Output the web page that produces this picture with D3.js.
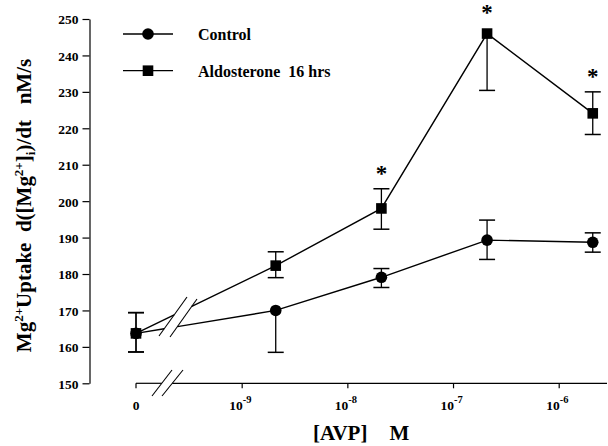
<!DOCTYPE html>
<html><head><meta charset="utf-8">
<script src="https://cdn.jsdelivr.net/npm/d3@7"></script>
<style>
html,body{margin:0;padding:0;background:#fff;}
svg{display:block;font-family:"Liberation Serif","Times New Roman",serif;font-weight:bold;}
</style></head>
<body><svg id="c" width="608" height="446"></svg>
<script>
// ---- data ----
const concentrations = [0, 2.1e-9, 2.1e-8, 2.1e-7, 2.1e-6];
const seriesNames = ["Control", "Aldosterone  16 hrs"];
const controlMean = [163.7, 170.0, 179.1, 189.3, 188.7];
const controlLow  = [158.6, 158.5, 176.3, 184.0, 186.0];
const controlHigh = [169.4, 170.0, 181.5, 194.8, 191.3];
const aldoMean = [163.7, 182.3, 198.0, 246.0, 224.1];
const aldoLow  = [158.6, 179.0, 192.3, 230.4, 218.3];
const aldoHigh = [169.4, 186.1, 203.4, 246.0, 230.0];
const aldoSignificant = [false, false, true, true, true];
const yTicks = [150, 160, 170, 180, 190, 200, 210, 220, 230, 240, 250];
const xTickExponents = [-9, -8, -7, -6];

// ---- layout ----
const svg = d3.select("#c");
const xLog = d3.scaleLog().domain([1e-10, 1e-6]).range([136, 558.7]);
const xPos = v => v === 0 ? xLog(1e-10) : xLog(v);
const y = d3.scaleLinear().domain([150, 250]).range([383.3, 19]);
const axisY = 383.3, axisRight = 607;
const black = "#000";

// y axis
const gy = svg.append("g").attr("transform", "translate(89.5,0)")
  .call(d3.axisLeft(y).tickValues(yTicks).tickSize(7).tickSizeOuter(0).tickPadding(4));
gy.select(".domain").attr("stroke", black).attr("stroke-width", 1.2);
gy.selectAll(".tick line").attr("stroke", black).attr("stroke-width", 1.2);
gy.selectAll(".tick text").attr("font-size", 13.5).attr("font-family", "Liberation Serif")
  .attr("font-weight", "bold").attr("fill", black).attr("dy", "0.36em");

// x axis (broken)
const brkA = [[152, 396], [172, 370]], brkB = [[162, 396], [183, 370]];
function xAt(seg, yy) { const [[x1, y1], [x2, y2]] = seg; return x1 + (yy - y1) / (y2 - y1) * (x2 - x1); }
svg.append("line").attr("x1", xPos(0)).attr("x2", xAt(brkA, axisY)).attr("y1", axisY).attr("y2", axisY)
  .attr("stroke", black).attr("stroke-width", 1.2);
svg.append("line").attr("x1", xAt(brkB, axisY)).attr("x2", axisRight).attr("y1", axisY).attr("y2", axisY)
  .attr("stroke", black).attr("stroke-width", 1.2);
[brkA, brkB].forEach(s => svg.append("line").attr("x1", s[0][0]).attr("y1", s[0][1]).attr("x2", s[1][0]).attr("y2", s[1][1])
  .attr("stroke", black).attr("stroke-width", 1.1));
const gx = svg.append("g").attr("transform", `translate(0,${axisY})`)
  .call(d3.axisBottom(xLog).tickValues(xTickExponents.map(e => Math.pow(10, e))).tickSize(5).tickFormat(""));
gx.select(".domain").remove();
gx.selectAll(".tick line").attr("stroke", black).attr("stroke-width", 1.2);
svg.append("line").attr("x1", xPos(0)).attr("x2", xPos(0)).attr("y1", axisY).attr("y2", axisY + 5)
  .attr("stroke", black).attr("stroke-width", 1.2);
svg.append("text").attr("x", xPos(0)).attr("y", 410).attr("text-anchor", "middle")
  .attr("font-size", 13.5).text("0");
xTickExponents.forEach(e => {
  const t = svg.append("text").attr("x", xLog(Math.pow(10, e)) - 12.5).attr("y", 410).attr("font-size", 13.5);
  t.append("tspan").text("10");
  t.append("tspan").attr("dy", -7).attr("font-size", 10.5).text(String(e));
});

// axis titles
const yt = svg.append("text").attr("transform", "translate(31,205.5) rotate(-90)")
  .attr("text-anchor", "middle").attr("font-size", 21).attr("xml:space", "preserve");
yt.append("tspan").text("Mg");
yt.append("tspan").attr("dy", -8).attr("font-size", 13).text("2+");
yt.append("tspan").attr("dy", 8).text("Uptake  d([Mg");
yt.append("tspan").attr("dy", -8).attr("font-size", 13).text("2+");
yt.append("tspan").attr("dy", 8).text("]");
yt.append("tspan").attr("dy", 4).attr("font-size", 13).text("i");
yt.append("tspan").attr("dy", -4).text(")/dt   nM/s");

const xt = svg.append("text").attr("x", 313).attr("y", 440).attr("font-size", 21);
xt.append("tspan").text("[AVP]");
xt.append("tspan").attr("dx", 22).text("M");

// series drawing
const series = [
  { name: seriesNames[0], mean: controlMean, low: controlLow, high: controlHigh, shape: "circle" },
  { name: seriesNames[1], mean: aldoMean, low: aldoLow, high: aldoHigh, shape: "square" }
];
const slash1 = [[159, 336], [187, 297]], slash2 = [[170, 337], [197, 299]];
function intersect(p, q, s) {
  const [[x3, y3], [x4, y4]] = s;
  const [x1, y1] = p, [x2, y2] = q;
  const d = (x1 - x2) * (y3 - y4) - (y1 - y2) * (x3 - x4);
  const t = ((x1 - x3) * (y3 - y4) - (y1 - y3) * (x3 - x4)) / d;
  return [x1 + t * (x2 - x1), y1 + t * (y2 - y1)];
}
const lw = 1.4;
series.forEach(s => {
  const pts = concentrations.map((c, i) => [xPos(c), y(s.mean[i])]);
  const a = intersect(pts[0], pts[1], slash1), b = intersect(pts[0], pts[1], slash2);
  svg.append("path").attr("d", d3.line()([pts[0], a])).attr("fill", "none").attr("stroke", black).attr("stroke-width", lw);
  svg.append("path").attr("d", d3.line()([b, ...pts.slice(1)])).attr("fill", "none").attr("stroke", black).attr("stroke-width", lw);
});
[slash1, slash2].forEach(s => svg.append("line").attr("x1", s[0][0]).attr("y1", s[0][1]).attr("x2", s[1][0]).attr("y2", s[1][1])
  .attr("stroke", black).attr("stroke-width", 1.1));

// error bars and markers
series.forEach(s => {
  concentrations.forEach((c, i) => {
    const x = xPos(c);
    const g = svg.append("g");
    g.append("line").attr("x1", x).attr("x2", x).attr("y1", y(s.high[i])).attr("y2", y(s.low[i]))
      .attr("stroke", black).attr("stroke-width", 1.3);
    [s.high[i], s.low[i]].forEach(v => {
      if (Math.abs(v - s.mean[i]) < 0.01) return;
      g.append("line").attr("x1", x - 8).attr("x2", x + 8).attr("y1", y(v)).attr("y2", y(v))
        .attr("stroke", black).attr("stroke-width", 1.5);
    });
  });
});
function marker(g, shape, x, yy) {
  if (shape === "circle") g.append("circle").attr("cx", x).attr("cy", yy).attr("r", 5.8).attr("fill", black);
  else g.append("rect").attr("x", x - 5.3).attr("y", yy - 5.3).attr("width", 10.6).attr("height", 10.6).attr("fill", black);
}
series.forEach(s => concentrations.forEach((c, i) => marker(svg, s.shape, xPos(c), y(s.mean[i]))));

// significance asterisks
aldoSignificant.forEach((sig, i) => {
  if (!sig) return;
  const topY = Math.min(y(aldoHigh[i]), y(aldoMean[i]) - 5.3);
  svg.append("text").attr("x", xPos(concentrations[i])).attr("y", topY - 19 + 11)
    .attr("text-anchor", "middle").attr("font-size", 23).text("*");
});

// legend
const legY = [34, 70.7];
series.forEach((s, i) => {
  svg.append("line").attr("x1", 123).attr("x2", 173).attr("y1", legY[i]).attr("y2", legY[i])
    .attr("stroke", black).attr("stroke-width", 1.3);
  marker(svg, s.shape, 148, legY[i]);
  svg.append("text").attr("x", 198).attr("y", legY[i] + 6).attr("font-size", 16)
    .attr("xml:space", "preserve").style("white-space", "pre").text(s.name);
});
</script></body></html>
